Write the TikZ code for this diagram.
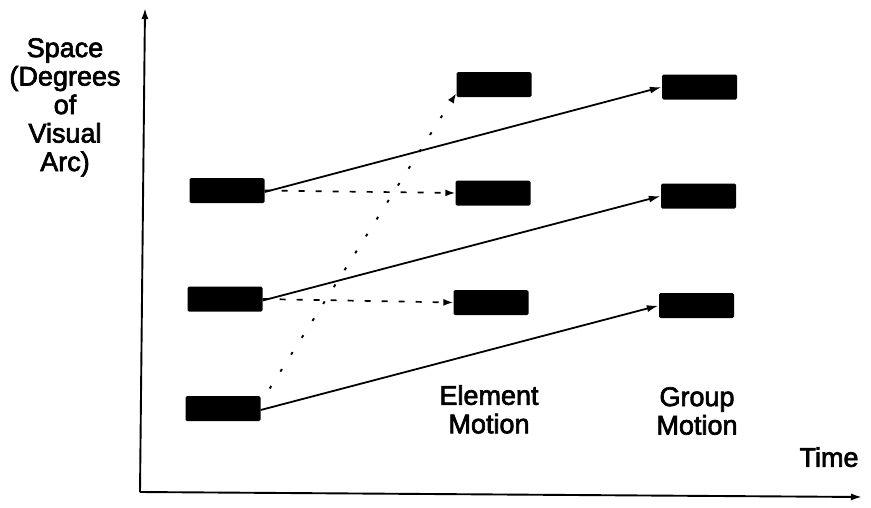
\documentclass[tikz,border=0pt]{standalone}
\usepackage{fontspec}
\setmainfont[FakeBold=2.5]{Liberation Sans}
\usetikzlibrary{arrows.meta}
\begin{document}
\begin{tikzpicture}[x=1pt,y=-1pt,
  blk/.style={fill=black,draw=none,minimum width=75pt,minimum height=25pt,inner sep=0pt,rounded corners=1.5pt},
  lbl/.style={align=center,inner sep=0pt,anchor=north,font=\fontsize{27}{28.5}\selectfont},
  axis/.style={line width=1.9pt,-{Latex[length=11pt,width=7pt]}},
  grp/.style={line width=1.8pt,-{Latex[length=12pt,width=7pt]}},
  elm/.style={line width=1.7pt,dash pattern=on 6pt off 11pt,-{Latex[length=10pt,width=7pt]}},
  drift/.style={line width=1.9pt,dash pattern=on 3pt off 17pt,-{Latex[length=10pt,width=7pt]}}]
\useasboundingbox (0,0) rectangle (871,507);
% axes
\coordinate (O) at (140,492);
\coordinate (Ytop) at (145,8);
\coordinate (Xend) at (862,497);
\draw[axis] (O) -- (Ytop);
\draw[axis] (O) -- (Xend);
% left boxes
\node[blk] (A) at (227,190.5) {};
\node[blk] (B) at (225,299) {};
\node[blk] (C) at (223,408.5) {};
% element motion boxes
\node[blk] (M1) at (494,84.5) {};
\node[blk] (M2) at (493,193) {};
\node[blk] (M3) at (491,302.5) {};
% group motion boxes
\node[blk] (G1) at (699.5,87) {};
\node[blk] (G2) at (698.5,196) {};
\node[blk] (G3) at (696.5,305.5) {};
% group motion arrows
\draw[grp] ([yshift=-1.5pt]A.east) -- (G1.west);
\draw[grp] ([yshift=-1.5pt]B.east) -- (G2.west);
\draw[grp] ([yshift=-1.5pt]C.east) -- (G3.west);
% element motion arrows
\draw[elm] (A.east) -- (M2.west);
\draw[elm] (B.east) -- (M3.west);
\draw[drift] ([shift={(9pt,20pt)}]C.east) -- ([shift={(0pt,4pt)}]M1.south west);
% labels
\node[lbl] (ylab) at (65,38) {Space\\(Degrees\\of\\Visual\\Arc)};
\node[lbl] (elab) at (489,385) {Element\\Motion};
\node[lbl] (glab) at (697,387) {Group\\Motion};
\node[lbl] (tlab) at (829,447) {Time};
\end{tikzpicture}
\end{document}
